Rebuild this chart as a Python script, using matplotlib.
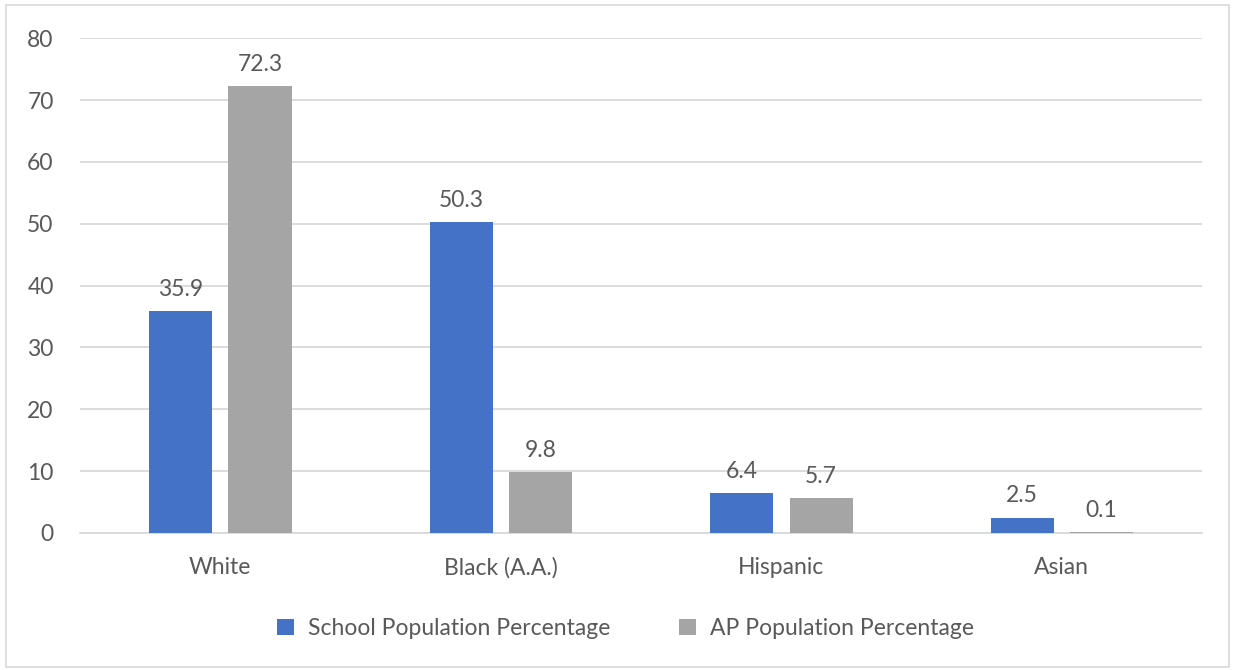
import matplotlib.pyplot as plt
import numpy as np
from matplotlib.patches import Rectangle

categories = ["White", "Black (A.A.)", "Hispanic", "Asian"]
school_pct = [35.9, 50.3, 6.4, 2.5]
ap_pct = [72.3, 9.8, 5.7, 0.1]
series_names = ["School Population Percentage", "AP Population Percentage"]
y_ticks = [0, 10, 20, 30, 40, 50, 60, 70, 80]

plt.rcParams['font.family'] = ['Lato', 'DejaVu Sans']
text_color = "#595959"
blue = "#4472C4"
gray = "#A5A5A5"
fs = 16.5

fig = plt.figure(figsize=(12.33, 6.7), dpi=100)
ax = fig.add_axes([0.0649, 0.2045, 0.9101, 0.7385])

x = np.arange(len(categories))
width = 0.225
offset = 0.1417
b1 = ax.bar(x - offset, school_pct, width, color=blue, label=series_names[0], zorder=3)
b2 = ax.bar(x + offset, ap_pct, width, color=gray, label=series_names[1], zorder=3)

# value labels above each bar
for bars in (b1, b2):
    for rect in bars:
        h = rect.get_height()
        ax.annotate(f"{h:g}", (rect.get_x() + rect.get_width() / 2, h),
                    xytext=(0, 8), textcoords="offset points",
                    ha="center", va="bottom", fontsize=fs, color=text_color)

ax.set_xlim(-0.5, len(categories) - 0.5)
ax.set_ylim(0, 80)
ax.set_yticks(y_ticks)
ax.set_xticks(x)
ax.set_xticklabels(categories)
ax.tick_params(axis="both", length=0, labelsize=fs, labelcolor=text_color)
ax.tick_params(axis="x", pad=17)
ax.tick_params(axis="y", pad=19)
ax.grid(axis="y", color="#D9D9D9", linewidth=1.3, zorder=0)
for side in ("top", "right", "left"):
    ax.spines[side].set_visible(False)
ax.spines["bottom"].set_color("#D9D9D9")
ax.spines["bottom"].set_linewidth(1.3)

fig.legend(loc="center", bbox_to_anchor=(0.507, 0.062), ncol=2, frameon=False,
           fontsize=fs, labelcolor=text_color, handlelength=0.75, handleheight=0.75,
           handletextpad=0.6, columnspacing=3.0)

# light outer frame around the whole chart
fig.patches.append(Rectangle((0.005, 0.004), 0.992, 0.989, transform=fig.transFigure,
                             fill=False, edgecolor="#D9D9D9", linewidth=1.2))

fig.savefig("out.png", dpi=100, facecolor="white")
